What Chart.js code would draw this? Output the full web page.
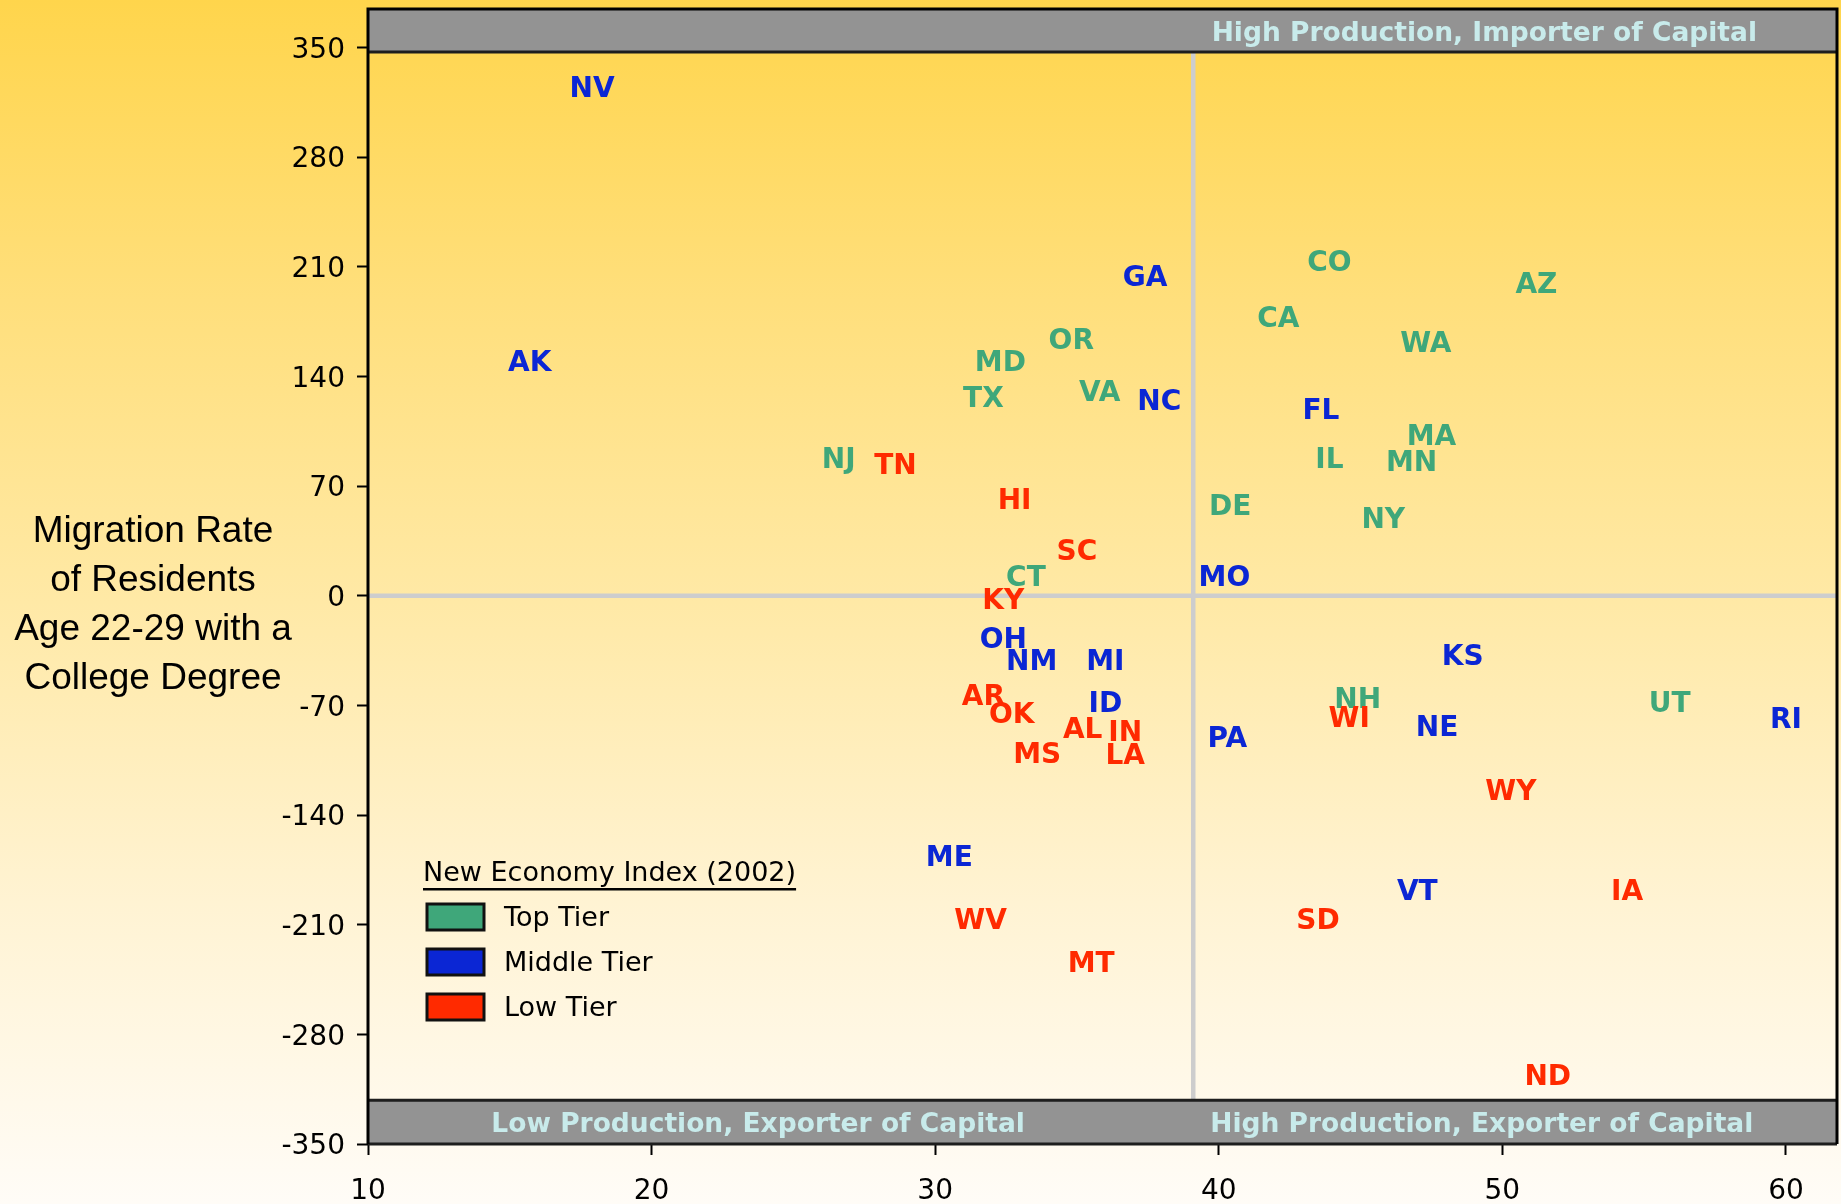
<!DOCTYPE html>
<html>
<head>
<meta charset="utf-8">
<title>Migration Rate vs New Economy Index</title>
<script src="https://cdn.jsdelivr.net/npm/chart.js@4.4.1/dist/chart.umd.min.js"></script>
<style>
  html, body { margin: 0; padding: 0; }
  body {
    width: 1841px; height: 1204px; overflow: hidden;
    background: linear-gradient(to bottom, #ffd54c 0%, #ffdf7c 25%, #ffe9a6 50%, #fff3d3 75%, #fffcf7 100%);
  }
  canvas { display: block; }
</style>
</head>
<body>
<canvas id="quadChart" width="1841" height="1204"></canvas>
<script>
// top tier states (green)
const topTierStates = ["CO", "AZ", "CA", "OR", "WA", "MD", "VA", "TX", "MA", "NJ", "IL", "MN", "DE", "NY", "CT", "NH", "UT"];
const topTierX = [43.9, 51.2, 42.1, 34.8, 47.3, 32.3, 35.8, 31.7, 47.5, 26.6, 43.9, 46.8, 40.4, 45.8, 33.2, 44.9, 55.9];
const topTierY = [214, 200, 178, 164, 162, 150, 131, 127, 103, 88, 88, 86, 58, 50, 13, -65, -68];

// middle tier states (blue)
const middleTierStates = ["NV", "AK", "GA", "NC", "FL", "MO", "OH", "NM", "MI", "KS", "ID", "RI", "NE", "PA", "ME", "VT"];
const middleTierX = [17.9, 15.7, 37.4, 37.9, 43.6, 40.2, 32.4, 33.4, 36.0, 48.6, 36.0, 60.0, 47.7, 40.3, 30.5, 47.0];
const middleTierY = [325, 150, 204, 125, 119, 13, -27, -41, -41, -38, -68, -78, -83, -90, -166, -188];

// low tier states (red)
const lowTierStates = ["TN", "HI", "SC", "KY", "AR", "OK", "WI", "AL", "IN", "MS", "LA", "WY", "WV", "SD", "MT", "IA", "ND"];
const lowTierX = [28.6, 32.8, 35.0, 32.4, 31.7, 32.7, 44.6, 35.2, 36.7, 33.6, 36.7, 50.3, 31.6, 43.5, 35.5, 54.4, 51.6];
const lowTierY = [84, 62, 29, -2, -63, -75, -77, -84, -86, -100, -101, -124, -206, -206, -234, -188, -306];

const xTicks = [10, 20, 30, 40, 50, 60];
const yTicks = [-350, -280, -210, -140, -70, 0, 70, 140, 210, 280, 350];

const tierNames = ["Top Tier", "Middle Tier", "Low Tier"];
const tierColors = ["#3fa77a", "#0b26d4", "#ff2a00"];

const splitX = 39.1; // vertical divider
const yTitle = ["Migration Rate", "of Residents", "Age 22-29 with a", "College Degree"];

const toPoints = (xs, ys) => xs.map((v, i) => ({ x: v, y: ys[i] }));

// centre capitals on y (DejaVu cap height ~0.73em)
const capText = (ctx, txt, x, y, size) => ctx.fillText(txt, x, y + size * 0.365);

const quadrants = {
  id: "quadrants",
  beforeDatasetsDraw(chart) {
    const { ctx, chartArea: a, scales: { x, y } } = chart;
    ctx.save();
    // cross hair
    ctx.strokeStyle = "#cdcdcd";
    ctx.lineWidth = 4.5;
    const x0 = x.getPixelForValue(splitX);
    const y0 = y.getPixelForValue(0);
    ctx.beginPath();
    ctx.moveTo(x0, a.top); ctx.lineTo(x0, a.bottom);
    ctx.moveTo(a.left, y0); ctx.lineTo(a.right, y0);
    ctx.stroke();

    // grey bands
    const topB = y.getPixelForValue(347);
    const botT = y.getPixelForValue(-322);
    ctx.fillStyle = "#939393";
    ctx.fillRect(a.left, a.top, a.right - a.left, topB - a.top);
    ctx.fillRect(a.left, botT, a.right - a.left, a.bottom - botT);
    ctx.strokeStyle = "#1e1e1e";
    ctx.lineWidth = 3;
    ctx.beginPath();
    ctx.moveTo(a.left, topB); ctx.lineTo(a.right, topB);
    ctx.moveTo(a.left, botT); ctx.lineTo(a.right, botT);
    ctx.moveTo(a.left, a.bottom); ctx.lineTo(a.right, a.bottom);
    ctx.stroke();

    ctx.fillStyle = "#c8ebeb";
    ctx.font = "bold 26.5px 'DejaVu Sans'";
    ctx.textAlign = "left";
    ctx.textBaseline = "alphabetic";
    capText(ctx, "High Production, Importer of Capital", x.getPixelForValue(39.75), (a.top + topB) / 2 + 1, 26.5);
    capText(ctx, "Low Production, Exporter of Capital", x.getPixelForValue(14.35), (botT + a.bottom) / 2, 26.5);
    capText(ctx, "High Production, Exporter of Capital", x.getPixelForValue(39.7), (botT + a.bottom) / 2, 26.5);
    ctx.restore();
  },
  afterDatasetsDraw(chart) {
    const { ctx, chartArea: a } = chart;
    ctx.save();
    // state labels
    ctx.font = "bold 28px 'DejaVu Sans'";
    ctx.textAlign = "center";
    ctx.textBaseline = "alphabetic";
    chart.data.datasets.forEach((ds, di) => {
      ctx.fillStyle = ds.borderColor;
      chart.getDatasetMeta(di).data.forEach((pt, i) => {
        capText(ctx, ds.states[i], pt.x, pt.y, 28);
      });
    });

    // frame
    ctx.strokeStyle = "#000";
    ctx.lineWidth = 3;
    ctx.beginPath();
    ctx.moveTo(a.left, a.bottom); ctx.lineTo(a.left, a.top);
    ctx.lineTo(a.right, a.top); ctx.lineTo(a.right, a.bottom);
    ctx.stroke();

    // legend
    ctx.fillStyle = "#000";
    ctx.font = "27px 'DejaVu Sans'";
    ctx.textAlign = "left";
    ctx.textBaseline = "middle";
    const title = "New Economy Index (2002)";
    ctx.fillText(title, 423, 874);
    const w = ctx.measureText(title).width;
    ctx.fillRect(423, 888, w, 2.5);
    tierNames.forEach((name, i) => {
      const cy = 917 + i * 45;
      ctx.fillStyle = tierColors[i];
      ctx.fillRect(427, cy - 13, 57, 26);
      ctx.lineWidth = 3;
      ctx.strokeStyle = "#111";
      ctx.strokeRect(427, cy - 13, 57, 26);
      ctx.fillStyle = "#000";
      ctx.fillText(name, 504, cy + 2);
    });

    // y axis title
    ctx.font = "37px 'Liberation Sans', Arial";
    ctx.textAlign = "center";
    yTitle.forEach((line, i) => ctx.fillText(line, 153, 532 + i * 49));
    ctx.restore();
  }
};

new Chart(document.getElementById("quadChart"), {
  type: "scatter",
  data: {
    datasets: [
      { label: tierNames[0], data: toPoints(topTierX, topTierY), states: topTierStates, borderColor: tierColors[0], backgroundColor: tierColors[0] },
      { label: tierNames[1], data: toPoints(middleTierX, middleTierY), states: middleTierStates, borderColor: tierColors[1], backgroundColor: tierColors[1] },
      { label: tierNames[2], data: toPoints(lowTierX, lowTierY), states: lowTierStates, borderColor: tierColors[2], backgroundColor: tierColors[2] },
    ],
  },
  options: {
    responsive: false,
    animation: false,
    events: [],
    layout: { padding: { top: 9, right: 4, left: 0, bottom: 0 } },
    elements: { point: { radius: 0, hoverRadius: 0 } },
    plugins: { legend: { display: false }, tooltip: { enabled: false } },
    scales: {
      x: {
        type: "linear",
        min: 10,
        max: 61.8,
        afterBuildTicks: (s) => { s.ticks = xTicks.map((v) => ({ value: v })); },
        afterFit: (s) => { s.height = 60; s.paddingLeft = 0; s.paddingRight = 0; },
        grid: { drawOnChartArea: false, drawTicks: true, tickLength: 11, tickWidth: 2, tickColor: "#000" },
        border: { display: false },
        ticks: { color: "#000", padding: 20, maxRotation: 0, font: { family: "'DejaVu Sans'", size: 28 } },
      },
      y: {
        type: "linear",
        min: -350,
        max: 374.5,
        afterBuildTicks: (s) => { s.ticks = yTicks.map((v) => ({ value: v })); },
        afterFit: (s) => { s.width = 368; s.paddingTop = 0; s.paddingBottom = 0; },
        grid: { drawOnChartArea: false, drawTicks: true, tickLength: 11, tickWidth: 2, tickColor: "#000" },
        border: { display: false },
        ticks: { color: "#000", padding: 12, labelOffset: 3, font: { family: "'DejaVu Sans'", size: 28 } },
      },
    },
  },
  plugins: [quadrants],
});
</script>
</body>
</html>
